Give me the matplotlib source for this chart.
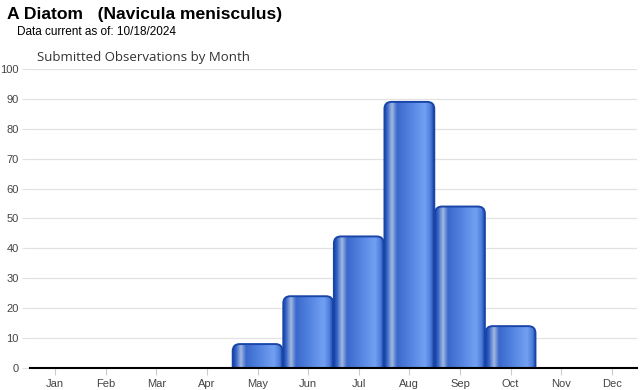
import numpy as np
import matplotlib

matplotlib.use("Agg")
import matplotlib.pyplot as plt
from matplotlib.colors import LinearSegmentedColormap
from matplotlib.patches import FancyBboxPatch

months = ["Jan", "Feb", "Mar", "Apr", "May", "Jun",
          "Jul", "Aug", "Sep", "Oct", "Nov", "Dec"]
counts = [0, 0, 0, 0, 8, 24, 44, 89, 54, 14, 0, 0]
yticks = [0, 10, 20, 30, 40, 50, 60, 70, 80, 90, 100]

plt.rcParams["font.family"] = ["Liberation Sans", "DejaVu Sans"]

fig = plt.figure(figsize=(6.4, 3.9), dpi=100)
ax = fig.add_axes([30 / 640, 1 - 368 / 390, 607 / 640, 299 / 390])

# horizontal "cylinder" shading of the bars
bar_cmap = LinearSegmentedColormap.from_list("bar", [
    (0.00, "#1b43a6"),
    (0.06, "#3564c8"),
    (0.16, "#a3b9e0"),
    (0.26, "#3a69cc"),
    (0.55, "#5585e2"),
    (0.82, "#72a0f2"),
    (0.93, "#4f7fdc"),
    (1.00, "#1c46aa"),
])
grad = np.linspace(0, 1, 256).reshape(1, -1)

x = np.arange(len(months))
width = 0.985
px_x = 607 / 12          # pixels per month
px_y = 299 / 100         # pixels per count
r_px = 7
for xi, val in zip(x, counts):
    if val <= 0:
        continue
    x0 = xi - width / 2
    rx = r_px / px_x
    aspect = (r_px / px_y) / rx
    patch = FancyBboxPatch((x0, -3), width, val + 3,
                           boxstyle=f"round,pad=0,rounding_size={rx}",
                           mutation_aspect=aspect,
                           facecolor="none", edgecolor="#1a45a8",
                           linewidth=1.4, zorder=3)
    ax.add_patch(patch)
    im = ax.imshow(grad, cmap=bar_cmap, aspect="auto",
                   extent=(x0, x0 + width, -3, val), zorder=2,
                   interpolation="bilinear")
    im.set_clip_path(patch)

ax.set_xlim(-0.5, 11.5)
ax.set_ylim(0, 100)
ax.set_yticks(yticks)
ax.set_xticks(x)
ax.set_xticklabels(months)
ax.grid(axis="y", color="#e2e2e2", linewidth=0.9, zorder=0)
ax.set_axisbelow(True)

for side in ["top", "right", "left"]:
    ax.spines[side].set_visible(False)
ax.spines["bottom"].set_color("black")
ax.spines["bottom"].set_linewidth(1.5)
ax.spines["bottom"].set_zorder(5)

ax.tick_params(axis="y", length=6, color="#e2e2e2", labelsize=8,
               labelcolor="#444444", pad=2)
ax.tick_params(axis="x", length=5, color="#cccccc", labelsize=8,
               labelcolor="#444444", pad=3)

fig.text(7 / 640, 1 - 15 / 390, "A Diatom   (Navicula menisculus)",
         fontsize=12.6, fontweight="bold", va="center", ha="left")
fig.text(17 / 640, 1 - 32 / 390, "Data current as of: 10/18/2024",
         fontsize=8.5, va="center", ha="left")
fig.text(37 / 640, 1 - 57 / 390, "Submitted Observations by Month",
         fontsize=9.5, color="#333333", va="center", ha="left",
         family=["Open Sans", "DejaVu Sans"])

fig.savefig("out.png", dpi=100)
plt.close()
